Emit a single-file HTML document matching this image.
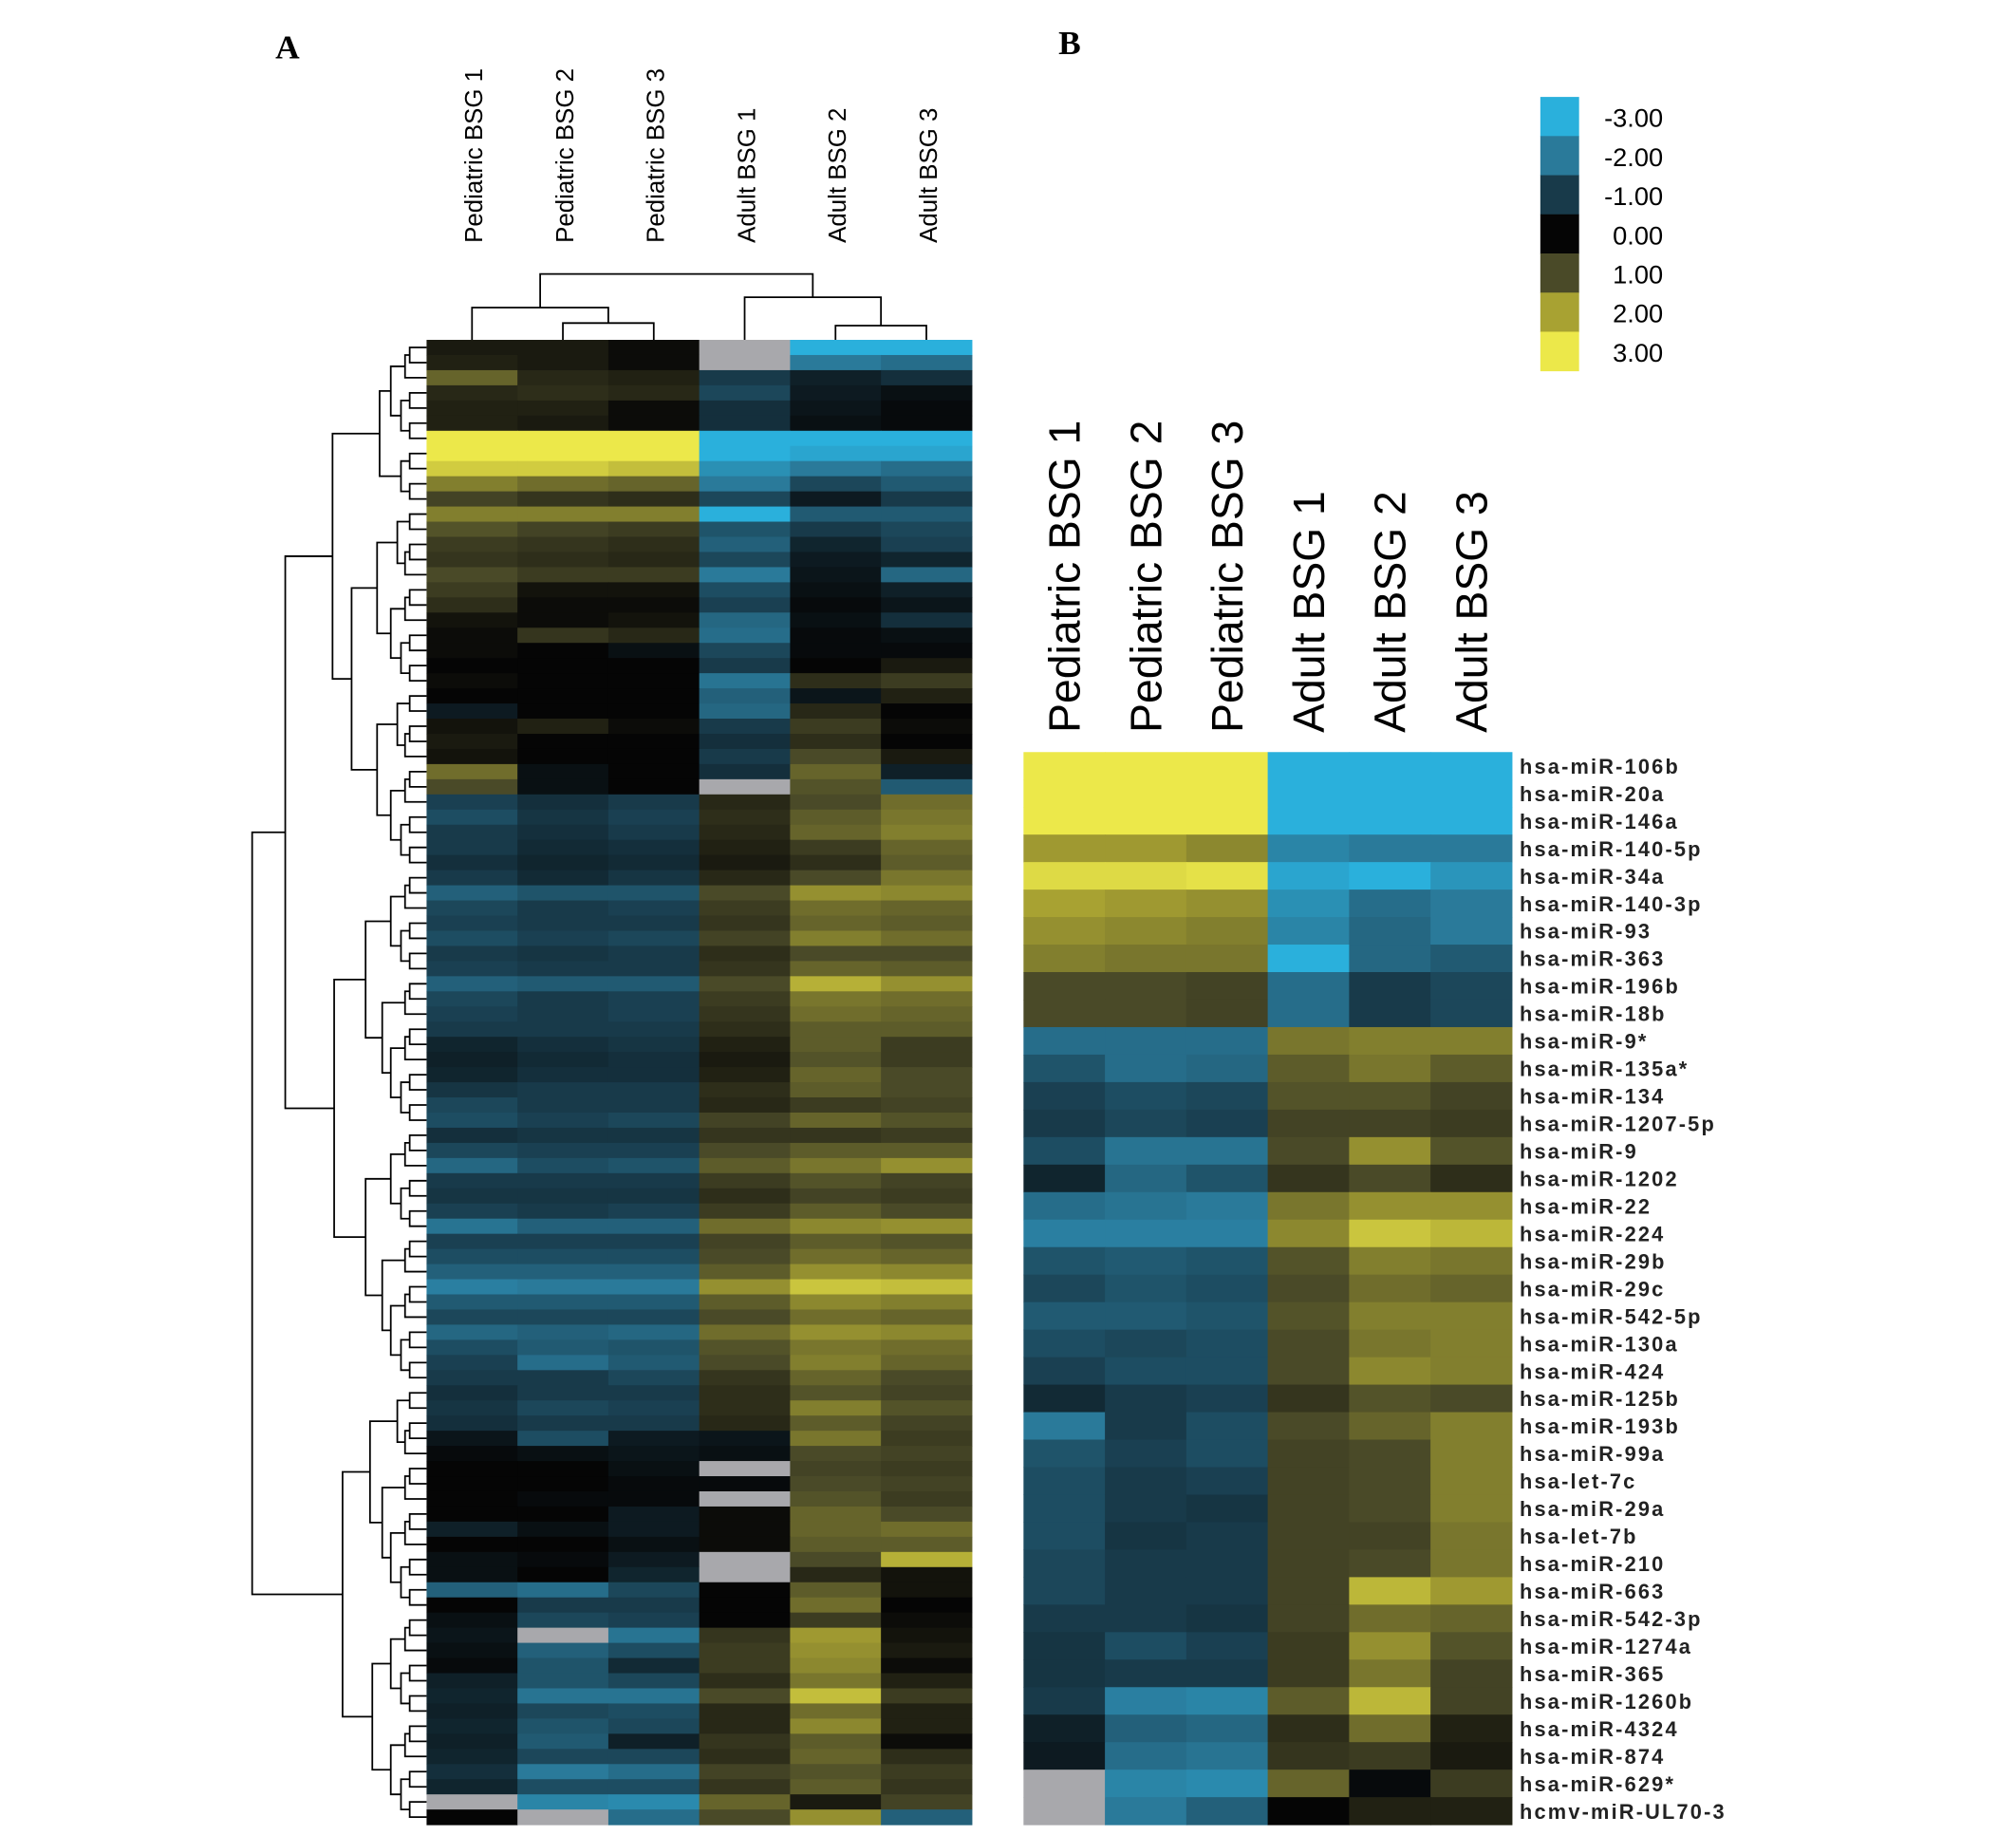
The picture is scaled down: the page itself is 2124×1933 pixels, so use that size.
<!DOCTYPE html>
<html><head><meta charset="utf-8"><style>
html,body{margin:0;padding:0;background:#fff;}
svg{display:block;}
</style></head><body>
<svg id="fig" width="2124" height="1933" viewBox="0 0 1560 1420" xmlns="http://www.w3.org/2000/svg" style="font-family:'Liberation Sans', sans-serif">
<rect width="1560" height="1420" fill="#fff"/>
<text x="213" y="45" style="font-family:'Liberation Serif', serif" font-weight="bold" font-size="26">A</text>
<text x="819" y="42" style="font-family:'Liberation Serif', serif" font-weight="bold" font-size="26">B</text>
<g id="gA"></g>
<g id="gAd" stroke="#000" stroke-width="1.3" fill="none"></g>
<g id="gB"></g>
<g id="gL"></g>
</svg>
<script>
const samples = ["Pediatric BSG 1","Pediatric BSG 2","Pediatric BSG 3","Adult BSG 1","Adult BSG 2","Adult BSG 3"];
const legendValues = [-3,-2,-1,0,1,2,3];
const legendLabels = ["-3.00","-2.00","-1.00","0.00","1.00","2.00","3.00"];
const mirnaNames = ["hsa-miR-106b","hsa-miR-20a","hsa-miR-146a","hsa-miR-140-5p","hsa-miR-34a","hsa-miR-140-3p","hsa-miR-93","hsa-miR-363","hsa-miR-196b","hsa-miR-18b","hsa-miR-9*","hsa-miR-135a*","hsa-miR-134","hsa-miR-1207-5p","hsa-miR-9","hsa-miR-1202","hsa-miR-22","hsa-miR-224","hsa-miR-29b","hsa-miR-29c","hsa-miR-542-5p","hsa-miR-130a","hsa-miR-424","hsa-miR-125b","hsa-miR-193b","hsa-miR-99a","hsa-let-7c","hsa-miR-29a","hsa-let-7b","hsa-miR-210","hsa-miR-663","hsa-miR-542-3p","hsa-miR-1274a","hsa-miR-365","hsa-miR-1260b","hsa-miR-4324","hsa-miR-874","hsa-miR-629*","hcmv-miR-UL70-3"];
const N = null;
const valuesB = [
[3,3,3,-3,-3,-3],[3,3,3,-3,-3,-3],[3,3,3,-3,-3,-3],
[1.9,1.9,1.7,-2.2,-2,-2],[2.8,2.8,2.9,-2.8,-3,-2.5],[2,1.9,1.8,-2.4,-1.8,-2],
[1.8,1.7,1.6,-2.2,-1.7,-2],[1.6,1.5,1.5,-3,-1.7,-1.5],[1,1,0.9,-1.8,-1,-1.2],
[1,1,0.9,-1.8,-1,-1.2],[-1.8,-1.8,-1.8,1.5,1.6,1.6],[-1.4,-1.8,-1.7,1.2,1.5,1.2],
[-1.1,-1.3,-1.2,1.1,1.1,0.9],[-1,-1.2,-1.1,0.9,0.9,0.8],[-1.3,-1.9,-1.9,1,1.8,1.1],
[-0.6,-1.7,-1.4,0.7,1,0.6],[-1.8,-1.9,-2,1.5,1.8,1.8],[-2.1,-2.1,-2.1,1.7,2.5,2.3],
[-1.4,-1.5,-1.4,1.1,1.6,1.5],[-1.2,-1.4,-1.3,1,1.4,1.3],[-1.5,-1.5,-1.4,1.1,1.6,1.6],
[-1.3,-1.2,-1.3,1,1.5,1.6],[-1.1,-1.3,-1.3,1,1.7,1.6],[-0.7,-1,-1.1,0.7,1.1,1],
[-2,-1,-1.3,1,1.3,1.6],[-1.4,-1.1,-1.3,0.9,1,1.6],[-1.3,-1,-1.1,0.9,1,1.6],
[-1.3,-1,-0.9,0.9,1,1.6],[-1.3,-0.9,-1,0.9,0.9,1.5],[-1.2,-1,-1,0.9,1,1.5],
[-1.2,-1,-1,0.9,2.3,1.9],[-1,-1,-0.9,0.9,1.4,1.3],[-0.9,-1.3,-1.1,0.8,1.8,1.1],
[-0.9,-1,-1,0.8,1.5,0.9],[-1,-2.1,-2.2,1.2,2.3,0.9],[-0.5,-1.6,-1.7,0.6,1.4,0.4],
[-0.4,-1.8,-1.9,0.7,0.8,0.3],[N,-2.2,-2.3,1.3,-0.1,0.8],[N,-2,-1.6,0,0.4,0.4]];
const valuesA = [
[0.3,0.3,0.1,N,-3,-3],[0.4,0.3,0.1,N,-2,-1.8],[1.3,0.5,0.4,-1,-0.5,-0.8],[0.5,0.6,0.5,-1.2,-0.4,-0.2],
[0.4,0.4,0.1,-0.8,-0.3,-0.1],[0.4,0.3,0.1,-0.8,-0.2,-0.1],[3,3,3,-3,-3,-3],[3,3,3,-3,-2.8,-2.8],
[2.6,2.6,2.4,-2.4,-2,-1.8],[1.6,1.4,1.3,-2,-1.2,-1.5],[0.9,0.7,0.6,-1.2,-0.4,-1],[1.6,1.6,1.6,-3,-1.5,-1.5],
[1.1,0.9,0.8,-1.4,-1,-1.2],[0.8,0.7,0.6,-1.6,-0.6,-1.1],[0.7,0.6,0.5,-1.2,-0.4,-0.6],[1,0.8,0.8,-2,-0.3,-1.7],
[0.8,0.2,0.2,-1.3,-0.2,-0.5],[0.6,0.1,0.1,-1.1,-0.1,-0.3],[0.2,0.1,0.2,-1.7,-0.2,-0.8],[0.1,0.7,0.5,-1.8,-0.1,-0.2],
[0.1,0,-0.2,-1.2,-0.1,-0.1],[0,0,0,-1,0,0.3],[0.1,0,0,-1.9,0.6,0.8],[0,0,0,-1.6,-0.3,0.4],
[-0.4,0,0,-1.7,0.5,0],[0.2,0.4,0.1,-1,0.8,0.1],[0.3,0,0,-0.8,0.6,0],[0.2,0,0,-1,1,0.3],
[1.4,-0.2,0,-0.8,1.3,-0.5],[1,-0.2,0,N,1.1,-1.5],[-1.1,-0.8,-1,0.5,1,1.4],[-1.3,-0.9,-1.1,0.6,1.2,1.5],
[-1,-0.8,-1,0.5,1.3,1.6],[-1,-0.7,-0.8,0.4,0.8,1.3],[-0.8,-0.6,-0.7,0.3,0.6,1.2],[-1,-0.7,-0.9,0.5,1,1.5],
[-1.6,-1.4,-1.4,1,1.8,1.7],[-1.2,-1,-1.1,0.8,1.4,1.3],[-1.1,-1,-1,0.7,1.3,1.2],[-1.3,-1.1,-1.2,0.9,1.6,1.4],
[-1,-0.9,-1,0.6,1,1],[-1.1,-1,-1,0.7,1.3,1.2],[-1.6,-1.5,-1.5,1,2.2,1.8],[-1.2,-1,-1.1,0.8,1.5,1.4],
[-1.1,-1,-1.1,0.7,1.4,1.3],[-1,-1,-1,0.6,1.2,1.2],[-0.6,-0.8,-0.9,0.4,1.2,0.8],[-0.5,-0.7,-0.8,0.3,1.1,0.8],
[-0.6,-0.8,-0.8,0.4,1.3,1],[-0.9,-1,-1,0.6,1.2,1],[-1.2,-1,-1,0.5,0.8,0.9],[-1.3,-1.1,-1.2,0.9,1.3,1.1],
[-0.8,-0.9,-0.9,0.7,0.7,0.8],[-1.2,-1.1,-1.1,1,1.2,1.2],[-1.7,-1.3,-1.4,1.2,1.5,1.8],[-1,-1,-1,0.8,1.1,0.9],
[-0.9,-0.9,-0.9,0.6,0.9,0.8],[-1.1,-1,-1.1,0.8,1.2,1],[-1.9,-1.6,-1.6,1.4,1.7,1.8],[-1.1,-1.1,-1.1,0.9,1.2,1.1],
[-1.3,-1.3,-1.3,1,1.4,1.3],[-1.6,-1.6,-1.6,1.2,1.8,1.7],[-2.1,-2,-2,1.8,2.5,2.4],[-1.5,-1.5,-1.5,1.2,1.7,1.6],
[-1.2,-1.2,-1.2,1,1.4,1.3],[-1.7,-1.6,-1.7,1.4,1.8,1.7],[-1.3,-1.5,-1.4,1.1,1.5,1.4],[-1.1,-1.8,-1.5,1,1.6,1.3],
[-1,-1,-1.2,0.7,1.3,1],[-0.8,-1,-1,0.6,1.1,0.9],[-0.9,-1.2,-1.1,0.6,1.6,1.1],[-0.8,-1,-1,0.5,1.2,0.9],
[-0.3,-1.3,-0.4,-0.3,1.5,0.8],[-0.1,-0.2,-0.3,-0.2,1,0.9],[0,0,-0.2,N,0.9,0.8],[0,0,-0.1,-0.1,1,0.9],
[0,-0.1,-0.1,N,1.1,0.8],[0,0,-0.4,0.1,1.3,1],[-0.5,-0.2,-0.4,0.1,1.3,1.4],[0,0,-0.2,0.1,1.2,1.2],
[-0.2,-0.1,-0.4,N,1,2.2],[-0.2,0,-0.6,N,0.5,0.2],[-1.6,-1.8,-1.2,0,1.2,0.2],[0,-1,-1,0,1.4,0],
[-0.2,-1.2,-1.1,0,0.8,0.1],[-0.3,N,-1.9,0.7,1.9,0.2],[-0.2,-1.6,-1.3,0.8,1.8,0.3],[-0.1,-1.4,-0.7,0.8,1.7,0.1],
[-0.5,-1.4,-1.2,0.6,1.5,0.4],[-0.6,-1.9,-1.9,1,2.4,0.8],[-0.5,-1.2,-1.3,0.5,1.4,0.4],[-0.6,-1.4,-1.2,0.5,1.7,0.4],
[-0.5,-1.5,-0.5,0.7,1.2,0.1],[-0.6,-1.2,-1.2,0.6,1.3,0.6],[-0.8,-2,-1.8,0.9,1.1,0.8],[-0.6,-1.3,-1.3,0.7,1.2,0.7],
[N,-2.2,-2.3,1.3,0.3,0.9],[0,N,-1.8,1,1.8,-1.6]];

const stops = [[-3,[42,176,220]],[-2,[42,122,154]],[-1,[24,58,74]],[0,[5,5,5]],[1,[74,74,40]],[2,[168,162,50]],[3,[236,232,74]]];
function color(v){
  if(v===null) return "#a8a8ac";
  v=Math.max(-3,Math.min(3,v));
  for(let i=0;i<stops.length-1;i++){
    if(v<=stops[i+1][0]){const t=(v-stops[i][0]);const a=stops[i][1],b=stops[i+1][1];
      return "rgb("+a.map((c,k)=>Math.round(c+(b[k]-c)*t)).join(",")+")";}
  }
  return "rgb(236,232,74)";
}
const NS="http://www.w3.org/2000/svg";
function mk(tag,attrs,parent){const e=document.createElementNS(NS,tag);for(const k in attrs)e.setAttribute(k,attrs[k]);parent.appendChild(e);return e;}

// Panel A
const gA=document.getElementById('gA');
const ax0=330,ax1=752,ay0=263,ay1=1412;
const aCw=(ax1-ax0)/samples.length, aRh=(ay1-ay0)/valuesA.length;
function axA(c){return ax0+c*aCw;} function ayA(r){return ay0+r*aRh;}
valuesA.forEach((row,r)=>row.forEach((v,c)=>{
  const e=mk('rect',{x:axA(c),y:ayA(r),width:aCw+0.4,height:aRh+0.4,fill:color(v)},gA);
  
  
}));
samples.forEach((s,c)=>{
  const x=axA(c)+aCw/2+8;
  const t=mk('text',{x:x,y:188,transform:`rotate(-90 ${x} 188)`,'font-size':19,fill:'#000',style:"font-family:'Liberation Sans', sans-serif"},gA);
  t.textContent=s;
  
  
});
// dendrograms
const gAd=document.getElementById('gAd');
const cx=c=>axA(c)+aCw/2;
function path(d){const p=mk('path',{d:d},gAd);}
path(`M${cx(1)} 263V250H${cx(2)}V263`);
path(`M${cx(0)} 263V238H${(cx(1)+cx(2))/2}V250`);
path(`M${cx(4)} 263V252H${cx(5)}V263`);
path(`M${cx(3)} 263V230H${(cx(4)+cx(5))/2}V252`);
const lc=(cx(0)+(cx(1)+cx(2))/2)/2, rc=(cx(3)+(cx(4)+cx(5))/2)/2;
path(`M${lc} 238V212H${rc}V230`);
function rowDen(lo,hi){
  const n=hi-lo;
  if(n<=1) return {y:ayA(lo)+aRh/2,x:ax0};
  const x=ax0-135*Math.pow(n/valuesA.length,0.6);
  const mid=lo+Math.max(1,Math.round(n*(((lo*7+hi*3)%5)/10+0.3)));
  const a=rowDen(lo,Math.min(mid,hi-1)),b=rowDen(Math.min(mid,hi-1),hi);
  path(`M${a.x} ${a.y}H${x}V${b.y}H${b.x}`);
  return {y:(a.y+b.y)/2,x:x};
}
rowDen(0,valuesA.length);

// Panel B
const gB=document.getElementById('gB');
const bx0=792,bx1=1170,by0=582,by1=1412;
const bCw=(bx1-bx0)/samples.length, bRh=(by1-by0)/valuesB.length;
function axB(c){return bx0+c*bCw;} function ayB(r){return by0+r*bRh;}
valuesB.forEach((row,r)=>row.forEach((v,c)=>{
  const e=mk('rect',{x:axB(c),y:ayB(r),width:bCw+0.4,height:bRh+0.4,fill:color(v)},gB);
  
  
}));
samples.forEach((s,c)=>{
  const x=axB(c)+bCw/2+12;
  const t=mk('text',{x:x,y:567,transform:`rotate(-90 ${x} 567)`,'font-size':34,fill:'#000',style:"font-family:'Liberation Sans', sans-serif"},gB);
  t.textContent=s;
  
  
});
mirnaNames.forEach((n,r)=>{
  const t=mk('text',{x:1176,y:ayB(r)+bRh/2+6,'font-size':16,'font-weight':'bold',fill:'#222','letter-spacing':'1.6',style:"font-family:'Liberation Sans', sans-serif"},gB);
  t.textContent=n;
  
  
});

// Legend
const gL=document.getElementById('gL');
const lh=212/legendValues.length;
legendValues.forEach((v,i)=>{
  const e=mk('rect',{x:1192,y:75+i*lh,width:30,height:lh+0.3,fill:color(v)},gL);
  
  
  const t=mk('text',{x:1287,y:75+i*lh+lh/2+8,'font-size':20,'text-anchor':'end',fill:'#000',style:"font-family:'Liberation Sans', sans-serif"},gL);
  t.textContent=legendLabels[i];
  
  
});
</script>
</body></html>
